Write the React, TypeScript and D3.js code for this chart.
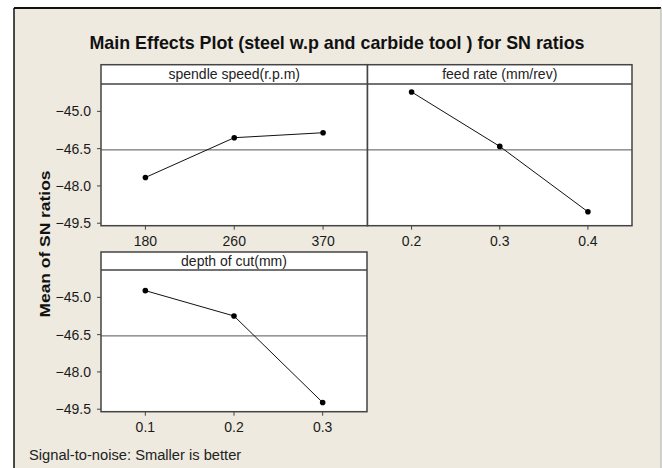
import React from "react";
import * as d3 from "d3";

const speedLevels = ["180", "260", "370"];
const speedSN = [-47.66, -46.06, -45.86];
const feedLevels = ["0.2", "0.3", "0.4"];
const feedSN = [-44.22, -46.41, -49.04];
const depthLevels = ["0.1", "0.2", "0.3"];
const depthSN = [-44.73, -45.75, -49.23];
const panelTitles = ["spendle speed(r.p.m)", "feed rate (mm/rev)", "depth of cut(mm)"];
const yTicks = [-45.0, -46.5, -48.0, -49.5];
const yDomain = [-49.6, -43.9];

const W = 662;
const H = 468;
const FONT = "'Liberation Sans', Arial, sans-serif";

type PanelProps = {
  title: string;
  levels: string[];
  values: number[];
  x0: number;
  x1: number;
  top: number;
  headerBottom: number;
  bottom: number;
  showY: boolean;
  mean: number;
};

function Panel(p: PanelProps) {
  const x = d3.scalePoint<string>().domain(p.levels).range([p.x0, p.x1]).padding(0.5);
  const y = d3.scaleLinear().domain(yDomain).range([p.bottom, p.headerBottom]);
  const line = d3
    .line<number>()
    .x((_, i) => x(p.levels[i]) as number)
    .y((d) => y(d));
  const fmt = d3.format(".1f");
  return (
    <g>
      <rect x={p.x0} y={p.top} width={p.x1 - p.x0} height={p.bottom - p.top} fill="#fff" />
      <text
        x={(p.x0 + p.x1) / 2}
        y={(p.top + p.headerBottom) / 2 + 4.5}
        textAnchor="middle"
        fontSize={14}
        fill="#222"
        fontFamily={FONT}
      >
        {p.title}
      </text>
      <line x1={p.x0} x2={p.x1} y1={p.headerBottom} y2={p.headerBottom} stroke="#444" strokeWidth={1.5} />
      <line x1={p.x0} x2={p.x1} y1={y(p.mean)} y2={y(p.mean)} stroke="#555" strokeWidth={1} />
      <path d={line(p.values) || ""} fill="none" stroke="#111" strokeWidth={1} />
      {p.values.map((v, i) => (
        <circle key={i} cx={x(p.levels[i])} cy={y(v)} r={2.8} fill="#000" />
      ))}
      <rect x={p.x0} y={p.top} width={p.x1 - p.x0} height={p.bottom - p.top} fill="none" stroke="#444" strokeWidth={1.5} />
      {p.levels.map((l) => (
        <g key={l}>
          <line x1={x(l)} x2={x(l)} y1={p.bottom} y2={p.bottom + 4} stroke="#444" />
          <text x={x(l)} y={p.bottom + 20.5} textAnchor="middle" fontSize={14} fill="#1a1a1a" fontFamily={FONT}>
            {l}
          </text>
        </g>
      ))}
      {p.showY &&
        yTicks.map((t) => (
          <g key={t}>
            <line x1={p.x0 - 4} x2={p.x0} y1={y(t)} y2={y(t)} stroke="#444" />
            <text x={p.x0 - 10} y={y(t) + 5} textAnchor="end" fontSize={14} fill="#1a1a1a" fontFamily={FONT}>
              {fmt(t)}
            </text>
          </g>
        ))}
    </g>
  );
}

export default function App() {
  const overallMean = d3.mean([...speedSN, ...feedSN, ...depthSN]) as number;
  return (
    <svg width={W} height={H} style={{ position: "absolute", left: 0, top: 0 }}>
      <rect x={0} y={0} width={W} height={H} fill="#fff" />
      <rect x={14} y={8} width={647} height={H - 8} fill="#EEEAE0" />
      <line x1={14} x2={661} y1={8} y2={8} stroke="#111" strokeWidth={2} />
      <line x1={14} x2={14} y1={8} y2={H} stroke="#111" strokeWidth={1.5} />
      <line x1={661} x2={661} y1={8} y2={H} stroke="#aaa" strokeWidth={1} />
      <text
        x={337}
        y={49}
        textAnchor="middle"
        fontSize={19}
        fontWeight="bold"
        fill="#111"
        fontFamily={FONT}
        textLength={495}
        lengthAdjust="spacingAndGlyphs"
      >
        Main Effects Plot (steel w.p and carbide tool ) for SN ratios
      </text>
      <text
        transform="translate(50,244) rotate(-90)"
        textAnchor="middle"
        fontSize={14}
        fontWeight="bold"
        fill="#111"
        fontFamily={FONT}
        textLength={147}
        lengthAdjust="spacingAndGlyphs"
      >
        Mean of SN ratios
      </text>
      <Panel
        title={panelTitles[0]}
        levels={speedLevels}
        values={speedSN}
        x0={101}
        x1={367.5}
        top={64.7}
        headerBottom={84}
        bottom={225.7}
        showY={true}
        mean={overallMean}
      />
      <Panel
        title={panelTitles[1]}
        levels={feedLevels}
        values={feedSN}
        x0={367.5}
        x1={632}
        top={64.7}
        headerBottom={84}
        bottom={225.7}
        showY={false}
        mean={overallMean}
      />
      <Panel
        title={panelTitles[2]}
        levels={depthLevels}
        values={depthSN}
        x0={101}
        x1={367}
        top={252}
        headerBottom={270}
        bottom={411.7}
        showY={true}
        mean={overallMean}
      />
      <text x={29} y={460} fontSize={14.7} fill="#222" fontFamily={FONT}>
        Signal-to-noise: Smaller is better
      </text>
    </svg>
  );
}
